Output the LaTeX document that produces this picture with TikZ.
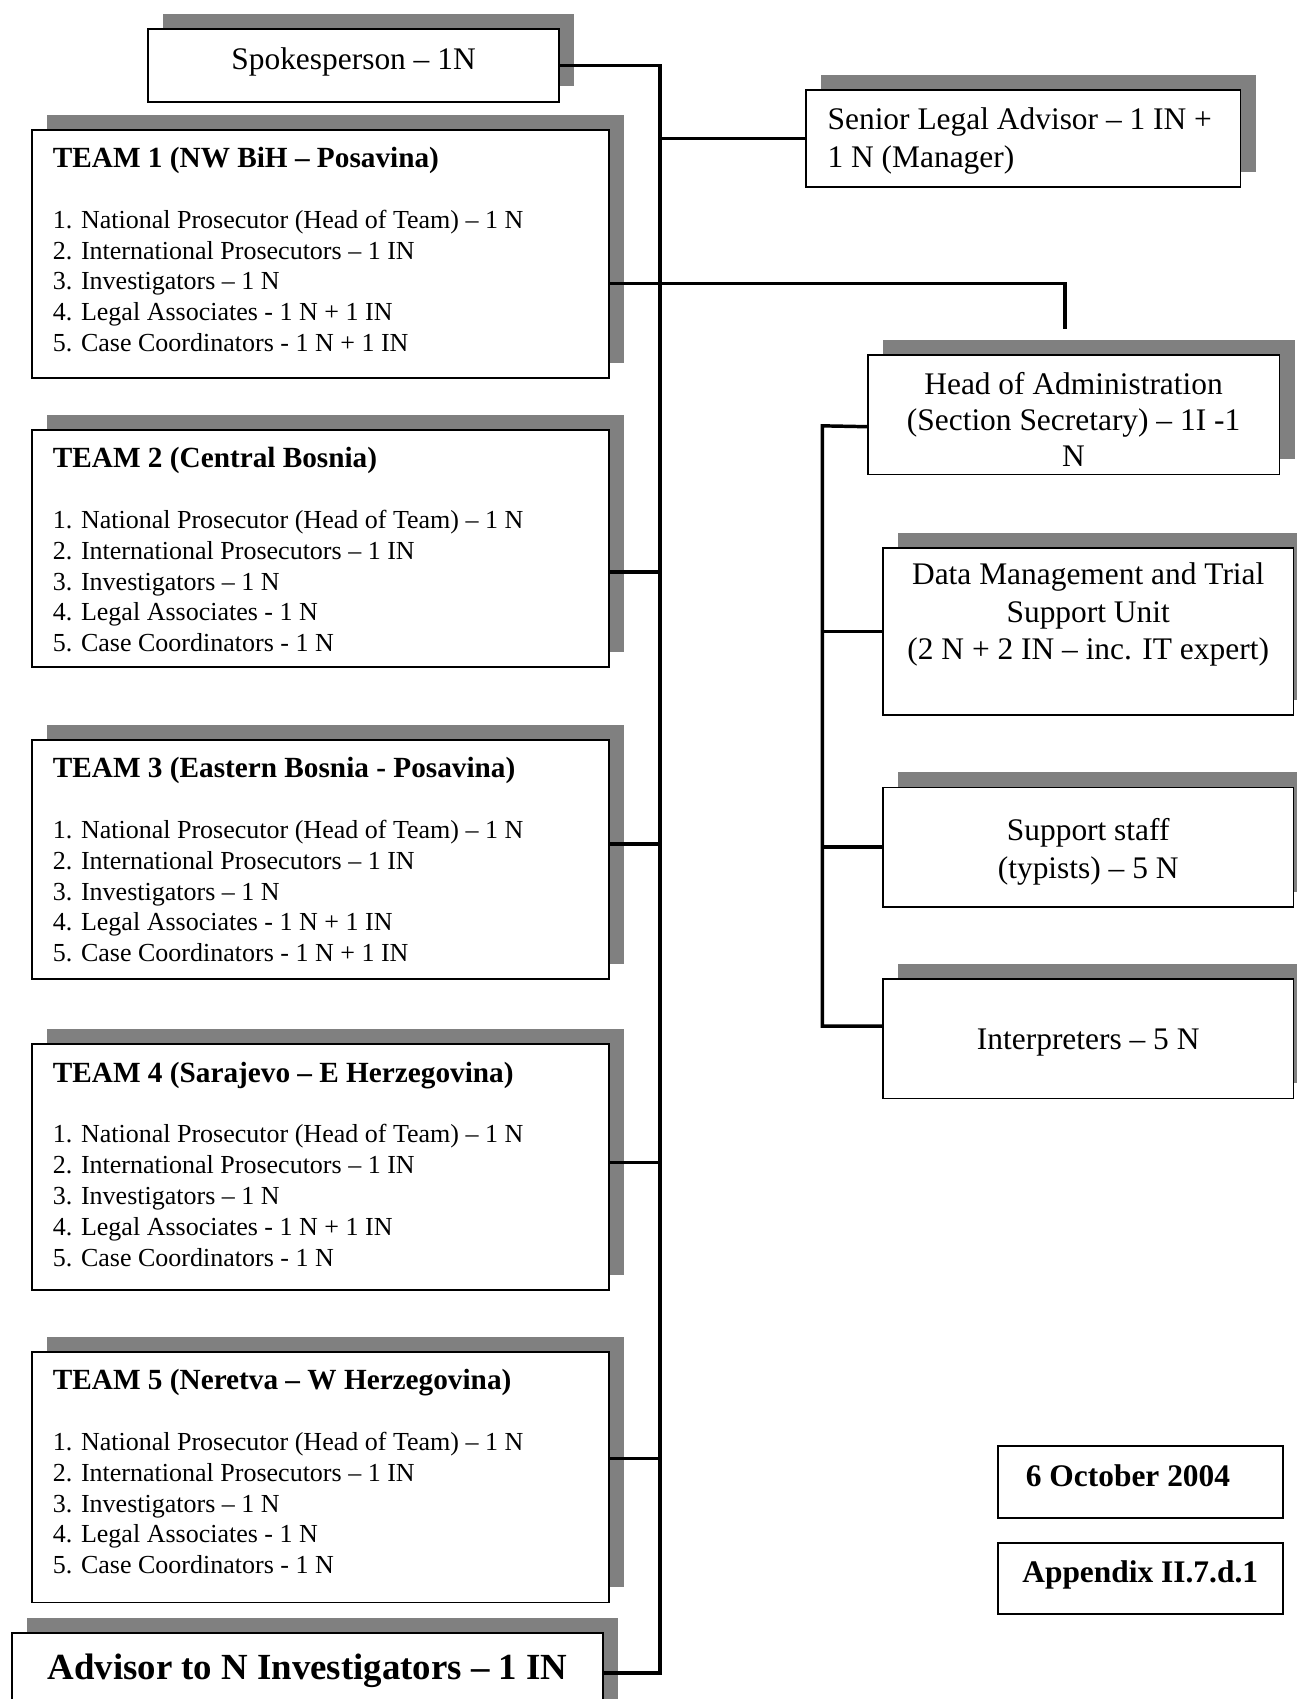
\documentclass[tikz,border=0pt]{standalone}
\usepackage{fontspec}
\setmainfont{Liberation Serif}
\usetikzlibrary{shadows}
\definecolor{shadowgray}{RGB}{128,128,128}
% fixed-size text body: height, width, first baseline, setup, text
\newcommand\boxbody[5]{%
  \parbox[c][#1][t]{#2}{\vspace*{\dimexpr#3-12pt\relax}#4\rule{0pt}{12pt}#5}}
\newcommand\itemfont{\fontsize{12}{14.2}\selectfont}
\newcommand\titlefont{\fontsize{13.5}{14.2}\selectfont\bfseries}
\newcommand\boxfont{\fontsize{14.5}{17.25}\selectfont}
\begin{document}
\begin{tikzpicture}[x=0.5pt,y=-0.5pt,
  box/.style={draw, line width=0.8pt, fill=white, rectangle, anchor=north west,
    inner ysep=0pt, inner xsep=0pt},
  shadowed/.style={drop shadow={shadow xshift=7pt, shadow yshift=7pt,
    fill=shadowgray, opacity=1}},
  teambox/.style={box, shadowed, inner xsep=9.5pt},
  conn/.style={line width=1.6pt}]
\useasboundingbox (0,0) rectangle (1197,1568);
\clip (0,0) rectangle (1197,1568);

% ---------- left column ----------
\node[box, shadowed] (spokes) at (136,26)
  {\boxbody{33.5pt}{189.5pt}{18.5pt}{\centering\boxfont}{Spokesperson – 1N}};

\node[teambox] (team1) at (29,119)
  {\boxbody{114.5pt}{247pt}{17.5pt}{\raggedright\itemfont}{{\titlefont TEAM 1 (NW BiH – Posavina)}\\[13.8pt]
   1. National Prosecutor (Head of Team) – 1 N\\
   2. International Prosecutors – 1 IN\\
   3. Investigators – 1 N\\
   4. Legal Associates - 1 N + 1 IN\\
   5. Case Coordinators - 1 N + 1 IN}};

\node[teambox] (team2) at (29,396)
  {\boxbody{109.5pt}{247pt}{17.5pt}{\raggedright\itemfont}{{\titlefont TEAM 2 (Central Bosnia)}\\[13.8pt]
   1. National Prosecutor (Head of Team) – 1 N\\
   2. International Prosecutors – 1 IN\\
   3. Investigators – 1 N\\
   4. Legal Associates - 1 N\\
   5. Case Coordinators - 1 N}};

\node[teambox] (team3) at (29,682)
  {\boxbody{110.5pt}{247pt}{17.5pt}{\raggedright\itemfont}{{\titlefont TEAM 3 (Eastern Bosnia - Posavina)}\\[13.8pt]
   1. National Prosecutor (Head of Team) – 1 N\\
   2. International Prosecutors – 1 IN\\
   3. Investigators – 1 N\\
   4. Legal Associates - 1 N + 1 IN\\
   5. Case Coordinators - 1 N + 1 IN}};

\node[teambox] (team4) at (29,963)
  {\boxbody{113.5pt}{247pt}{17.5pt}{\raggedright\itemfont}{{\titlefont TEAM 4 (Sarajevo – E Herzegovina)}\\[13.8pt]
   1. National Prosecutor (Head of Team) – 1 N\\
   2. International Prosecutors – 1 IN\\
   3. Investigators – 1 N\\
   4. Legal Associates - 1 N + 1 IN\\
   5. Case Coordinators - 1 N}};

\node[teambox] (team5) at (29,1247)
  {\boxbody{115.5pt}{247pt}{17.5pt}{\raggedright\itemfont}{{\titlefont TEAM 5 (Neretva – W Herzegovina)}\\[13.8pt]
   1. National Prosecutor (Head of Team) – 1 N\\
   2. International Prosecutors – 1 IN\\
   3. Investigators – 1 N\\
   4. Legal Associates - 1 N\\
   5. Case Coordinators - 1 N}};

\node[box, shadowed] (advisor) at (10,1506)
  {\boxbody{40pt}{273pt}{21.5pt}{\centering\fontsize{17}{20}\selectfont\bfseries}{Advisor to N Investigators – 1 IN}};

% ---------- right column ----------
\node[box, shadowed, inner xsep=10pt] (senior) at (743,82)
  {\boxbody{45pt}{180.5pt}{18.5pt}{\raggedright\fontsize{14.5}{17.5}\selectfont}{Senior Legal Advisor – 1 IN +\\1 N (Manager)}};

\node[box, shadowed] (admin) at (800,327)
  {\boxbody{55pt}{190pt}{18pt}{\centering\fontsize{14.5}{16.75}\selectfont}{Head of Administration\\(Section Secretary) – 1I -1\\N}};

\node[box, shadowed] (data) at (814,505)
  {\boxbody{77pt}{189.5pt}{17pt}{\centering\boxfont}{Data Management and Trial\\Support Unit\\(2 N + 2 IN – inc. IT expert)}};

\node[box, shadowed] (support) at (814,726)
  {\boxbody{55pt}{189.5pt}{24.5pt}{\centering\boxfont}{Support staff\\(typists) – 5 N}};

\node[box, shadowed] (interp) at (814,903)
  {\boxbody{55pt}{189.5pt}{32.5pt}{\centering\boxfont}{Interpreters – 5 N}};

\node[box, inner xsep=13pt] (date) at (920,1334)
  {\boxbody{33pt}{105.5pt}{18.5pt}{\raggedright\boxfont\bfseries}{6 October 2004}};

\node[box] (appendix) at (920,1423)
  {\boxbody{33pt}{131.5pt}{18.5pt}{\centering\boxfont\bfseries}{Appendix II.7.d.1}};

% ---------- connectors ----------
\coordinate (trunktop) at (609,60);
\coordinate (trunkbot) at (609,1546);
\coordinate (admintap) at (983,304);
\coordinate (bustop) at (759,393);
\coordinate (busbot) at (759,947);

\draw[conn] (spokes.east) -- (spokes.east -| trunktop) -- (trunkbot);
\draw[conn] (senior.west) -- (senior.west -| trunktop);
\draw[conn] ([yshift=-13.75pt]team1.east) -| (admintap);
\draw[conn] ([yshift=-10.75pt]team2.east) coordinate (t2) -- (t2 -| trunktop);
\draw[conn] ([yshift=7.25pt]team3.east) coordinate (t3) -- (t3 -| trunktop);
\draw[conn] ([yshift=2.25pt]team4.east) coordinate (t4) -- (t4 -| trunktop);
\draw[conn] ([yshift=8.75pt]team5.east) coordinate (t5) -- (t5 -| trunktop);
\draw[conn] ([yshift=1.5pt]advisor.east) coordinate (ta) -- (ta -| trunktop);

\draw[conn] ([yshift=-5.5pt]admin.west) -- (bustop) -- (busbot) -- (busbot -| interp.west);
\draw[conn] (data.west) -- (data.west -| bustop);
\draw[conn] (support.west) -- (support.west -| bustop);
\end{tikzpicture}
\end{document}
